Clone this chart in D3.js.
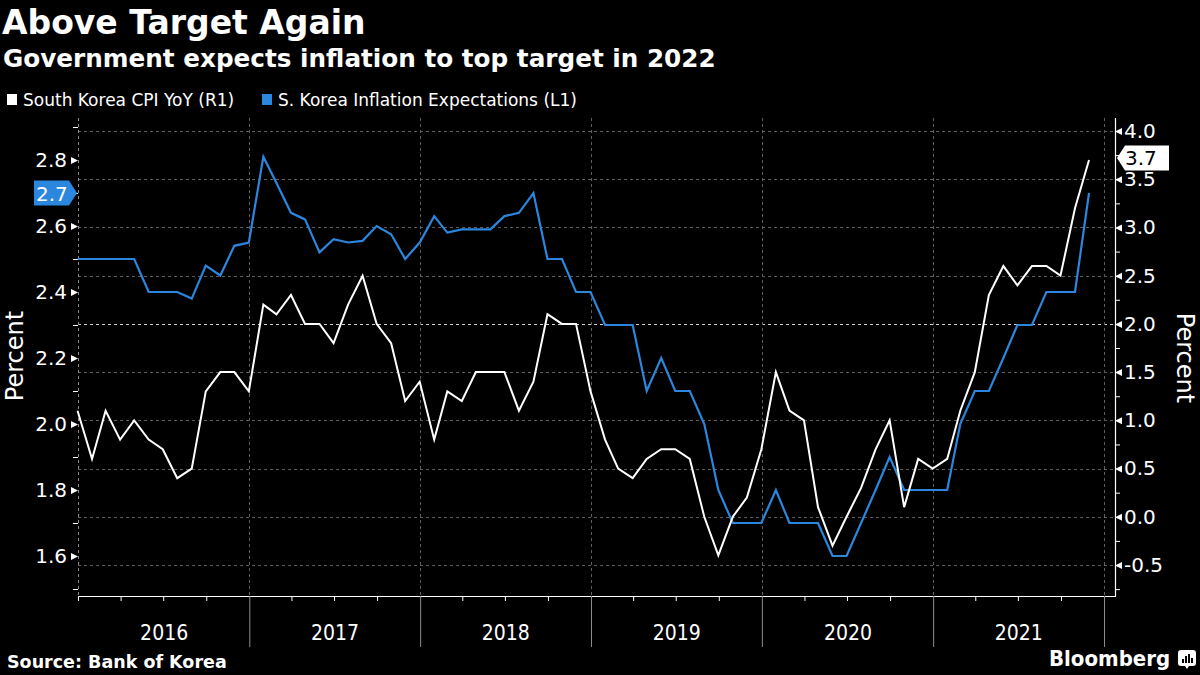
<!DOCTYPE html>
<html>
<head>
<meta charset="utf-8">
<script src="https://cdn.jsdelivr.net/npm/d3@7"></script>
<style>
  html, body { margin: 0; padding: 0; background: #000; }
  svg { display: block; }
</style>
</head>
<body>
<svg id="chart" width="1200" height="675"></svg>
<script>
// ---------------- DATA ----------------
// Monthly observations, Dec 2015 .. Nov 2021 (72 months)
const startYear = 2015, startMonth = 11; // December 2015 (0-based month)
const cpiYoY = [1.1,0.6,1.1,0.8,1.0,0.8,0.7,0.4,0.5,1.3,1.5,1.5,
                1.3,2.2,2.1,2.3,2.0,2.0,1.8,2.2,2.5,2.0,1.8,1.2,
                1.4,0.8,1.3,1.2,1.5,1.5,1.5,1.1,1.4,2.1,2.0,2.0,
                1.3,0.8,0.5,0.4,0.6,0.7,0.7,0.6,0.0,-0.4,0.0,0.2,
                0.7,1.5,1.1,1.0,0.1,-0.3,0.0,0.3,0.7,1.0,0.1,0.6,
                0.5,0.6,1.1,1.5,2.3,2.6,2.4,2.6,2.6,2.5,3.2,3.7];
const inflExp = [2.5,2.5,2.5,2.5,2.5,2.4,2.4,2.4,2.38,2.48,2.45,2.54,
                 2.55,2.81,2.73,2.64,2.62,2.52,2.56,2.55,2.555,2.6,2.575,2.5,
                 2.55,2.63,2.58,2.59,2.59,2.59,2.63,2.64,2.7,2.5,2.5,2.4,
                 2.4,2.3,2.3,2.3,2.1,2.2,2.1,2.1,2.0,1.8,1.7,1.7,
                 1.7,1.8,1.7,1.7,1.7,1.6,1.6,1.7,1.8,1.9,1.8,1.8,
                 1.8,1.8,2.0,2.1,2.1,2.2,2.3,2.3,2.4,2.4,2.4,2.7];
const years = [2016, 2017, 2018, 2019, 2020, 2021];
const leftMajorTicks = [1.6, 1.8, 2.0, 2.2, 2.4, 2.6, 2.8];
const leftMinorTicks = [1.5, 1.7, 1.9, 2.1, 2.3, 2.5, 2.7, 2.9];
const rightMajorTicks = [-0.5, 0.0, 0.5, 1.0, 1.5, 2.0, 2.5, 3.0, 3.5, 4.0];
const rightMinorTicks = [-0.75, -0.25, 0.25, 0.75, 1.25, 1.75, 2.25, 2.75, 3.25, 3.75];
const targetLevel = 2.0;
const legendLabels = ["South Korea CPI YoY (R1)", "S. Korea Inflation Expectations (L1)"];
const titleText = "Above Target Again";
const subtitleText = "Government expects inflation to top target in 2022";
const sourceText = "Source: Bank of Korea";

// ---------------- LAYOUT ----------------
const W = 1200, H = 675;
const plot = { left: 78, right: 1115, top: 118, bottom: 596 };
const BLUE = "#2b86de";
const svg = d3.select("#chart");
svg.append("rect").attr("width", W).attr("height", H).attr("fill", "#000");

const dates = cpiYoY.map((_, i) => new Date(startYear, startMonth + i + 1, 0)); // month-end

const x = d3.scaleTime()
  .domain([new Date(2016, 0, 1), new Date(2022, 0, 1)])
  .range([plot.left, 1104]);
const yL = d3.scaleLinear().domain([1.4788, 2.9273]).range([plot.bottom, plot.top]);
const yR = d3.scaleLinear().domain([-0.8214, 4.135]).range([plot.bottom, plot.top]);

// ---------------- GRID ----------------
const grid = svg.append("g");
grid.selectAll("line.h").data(rightMajorTicks).join("line")
  .attr("x1", plot.left).attr("x2", plot.right)
  .attr("y1", d => Math.round(yR(d)) + 0.5).attr("y2", d => Math.round(yR(d)) + 0.5)
  .attr("stroke", d => d === targetLevel ? "#d0d0d0" : "#5e5e5e")
  .attr("stroke-width", 1)
  .attr("stroke-dasharray", "3,3");
const yearStarts = years.slice(1).map(y => new Date(y, 0, 1)).concat([new Date(2022, 0, 1)]);
grid.selectAll("line.v").data(yearStarts).join("line")
  .attr("x1", d => Math.round(x(d)) + 0.5).attr("x2", d => Math.round(x(d)) + 0.5)
  .attr("y1", plot.top).attr("y2", plot.bottom)
  .attr("stroke", "#5e5e5e").attr("stroke-width", 1).attr("stroke-dasharray", "3,3");

// ---------------- AXES ----------------
// Left axis (dashed line)
svg.append("line")
  .attr("x1", plot.left + 0.5).attr("x2", plot.left + 0.5)
  .attr("y1", plot.top).attr("y2", plot.bottom)
  .attr("stroke", "#8a8a8a").attr("stroke-dasharray", "3,3");

const leftAxis = svg.append("g").attr("transform", `translate(${plot.left},0)`)
  .call(d3.axisLeft(yL).tickValues(leftMajorTicks).tickSize(0).tickPadding(11)
        .tickFormat(d3.format(".1f")));
leftAxis.select(".domain").remove();
leftAxis.selectAll("text").attr("fill", "#fff")
  .style("font-family", "'DejaVu Sans'").style("font-size", "20px");
leftAxis.selectAll(".tick").append("path")
  .attr("d", "M0,0 L-7,-3.5 L-7,3.5 Z").attr("fill", "#fff");

const leftMinor = svg.append("g").attr("transform", `translate(${plot.left},0)`)
  .call(d3.axisLeft(yL).tickValues(leftMinorTicks).tickSize(5).tickFormat(""));
leftMinor.select(".domain").remove();
leftMinor.selectAll("line").attr("stroke", "#fff");

// Right axis (solid line)
svg.append("line")
  .attr("x1", plot.right + 0.5).attr("x2", plot.right + 0.5)
  .attr("y1", plot.top).attr("y2", plot.bottom)
  .attr("stroke", "#fff").attr("stroke-width", 1.2);

const rightAxis = svg.append("g").attr("transform", `translate(${plot.right},0)`)
  .call(d3.axisRight(yR).tickValues(rightMajorTicks).tickSize(0).tickPadding(9)
        .tickFormat(d3.format(".1f")));
rightAxis.select(".domain").remove();
rightAxis.selectAll("text").attr("fill", "#fff")
  .style("font-family", "'DejaVu Sans'").style("font-size", "20px")
  .text(d => d < 0 ? "-" + Math.abs(d).toFixed(1) : d.toFixed(1));
rightAxis.selectAll(".tick").append("path")
  .attr("d", "M0,0 L7,-3.5 L7,3.5 Z").attr("fill", "#fff");

const rightMinor = svg.append("g").attr("transform", `translate(${plot.right},0)`)
  .call(d3.axisRight(yR).tickValues(rightMinorTicks).tickSize(5).tickFormat(""));
rightMinor.select(".domain").remove();
rightMinor.selectAll("line").attr("stroke", "#fff");

// Bottom axis
svg.append("line")
  .attr("x1", plot.left).attr("x2", plot.right + 1)
  .attr("y1", plot.bottom + 0.5).attr("y2", plot.bottom + 0.5)
  .attr("stroke", "#fff").attr("stroke-width", 1.2);

const quarters = d3.timeMonth.every(3).range(new Date(2016, 0, 1), new Date(2022, 0, 2))
  .filter(d => d.getMonth() !== 0 || d.getFullYear() === 2016);
const xMinor = svg.append("g").attr("transform", `translate(0,${plot.bottom})`)
  .call(d3.axisBottom(x).tickValues(quarters).tickSize(5).tickFormat(""));
xMinor.select(".domain").remove();
xMinor.selectAll("line").attr("stroke", "#fff");

const xYears = svg.append("g").attr("transform", `translate(0,${plot.bottom})`)
  .call(d3.axisBottom(x).tickValues(yearStarts).tickSize(51).tickFormat(""));
xYears.select(".domain").remove();
xYears.selectAll("line").attr("stroke", "#8c8c8c");

const midYears = years.map(y => new Date(y, 6, 2));
const xLabels = svg.append("g").attr("transform", `translate(0,${plot.bottom})`)
  .call(d3.axisBottom(x).tickValues(midYears).tickSize(0).tickPadding(29)
        .tickFormat(d3.timeFormat("%Y")));
xLabels.select(".domain").remove();
xLabels.selectAll("text").attr("fill", "#fff")
  .style("font-family", "'DejaVu Sans Condensed'").style("font-size", "21px");

// Axis titles
svg.append("text").attr("transform", "translate(23,356) rotate(-90)")
  .attr("text-anchor", "middle").attr("fill", "#fff")
  .style("font-family", "'DejaVu Sans'").style("font-size", "24px").text("Percent");
svg.append("text").attr("transform", "translate(1177,358) rotate(90)")
  .attr("text-anchor", "middle").attr("fill", "#fff")
  .style("font-family", "'DejaVu Sans'").style("font-size", "24px").text("Percent");

// ---------------- LINES ----------------
const lineL = d3.line().x((d, i) => x(dates[i])).y(d => yL(d));
const lineR = d3.line().x((d, i) => x(dates[i])).y(d => yR(d));
svg.append("path").datum(inflExp).attr("d", lineL)
  .attr("fill", "none").attr("stroke", BLUE).attr("stroke-width", 2.2)
  .attr("stroke-linejoin", "miter");
svg.append("path").datum(cpiYoY).attr("d", lineR)
  .attr("fill", "none").attr("stroke", "#fff").attr("stroke-width", 2)
  .attr("stroke-linejoin", "miter");

// ---------------- LAST VALUE LABELS ----------------
const lastL = inflExp[inflExp.length - 1];
const yl = yL(lastL);
svg.append("path")
  .attr("d", `M34,${yl - 12.5} L69,${yl - 12.5} L77,${yl} L69,${yl + 12.5} L34,${yl + 12.5} Z`)
  .attr("fill", BLUE);
svg.append("text").attr("x", 36).attr("y", yl + 7.5).attr("fill", "#fff")
  .style("font-family", "'DejaVu Sans'").style("font-size", "20px")
  .text(lastL.toFixed(1));

const lastR = cpiYoY[cpiYoY.length - 1];
const yr = yR(lastR) - 2;
svg.append("path")
  .attr("d", `M1117,${yr} L1125,${yr - 12.5} L1169,${yr - 12.5} L1169,${yr + 12.5} L1125,${yr + 12.5} Z`)
  .attr("fill", "#fff");
svg.append("text").attr("x", 1125).attr("y", yr + 7.5).attr("fill", "#000")
  .style("font-family", "'DejaVu Sans'").style("font-size", "20px")
  .text(lastR.toFixed(1));

// ---------------- TITLES ----------------
svg.append("text").attr("x", 2).attr("y", 34).attr("fill", "#fff")
  .style("font-family", "'DejaVu Sans'").style("font-weight", "bold").style("font-size", "33px")
  .text(titleText);
svg.append("text").attr("x", 3).attr("y", 67).attr("fill", "#fff")
  .style("font-family", "'DejaVu Sans'").style("font-weight", "bold").style("font-size", "24.7px")
  .text(subtitleText);

// Legend
const legend = svg.append("g");
const legendX = [7, 262];
const legendColors = ["#fff", BLUE];
legendLabels.forEach((lab, i) => {
  legend.append("rect").attr("x", legendX[i]).attr("y", 94).attr("width", 10).attr("height", 11)
    .attr("fill", legendColors[i]);
  legend.append("text").attr("x", legendX[i] + 16).attr("y", 106).attr("fill", "#fff")
    .style("font-family", "'DejaVu Sans'").style("font-size", "17px").text(lab);
});

// Footer
svg.append("text").attr("x", 7).attr("y", 668).attr("fill", "#fff")
  .style("font-family", "'DejaVu Sans'").style("font-weight", "bold").style("font-size", "17.5px")
  .text(sourceText);
svg.append("text").attr("x", 1049).attr("y", 666).attr("fill", "#fff")
  .style("font-family", "'DejaVu Sans Condensed'").style("font-weight", "bold").style("font-size", "22px")
  .text("Bloomberg");
const logo = svg.append("g").attr("transform", "translate(1178,650)");
logo.append("rect").attr("width", 18).attr("height", 16).attr("rx", 3).attr("fill", "#fff");
logo.append("path").attr("d", "M7,16 L9,19 L11,16 Z").attr("fill", "#fff");
[[4,9],[7,6],[10,4],[13,8]].forEach(([bx, by]) => {
  logo.append("rect").attr("x", bx).attr("y", by).attr("width", 2).attr("height", 13 - by).attr("fill", "#000");
});
</script>
</body>
</html>
